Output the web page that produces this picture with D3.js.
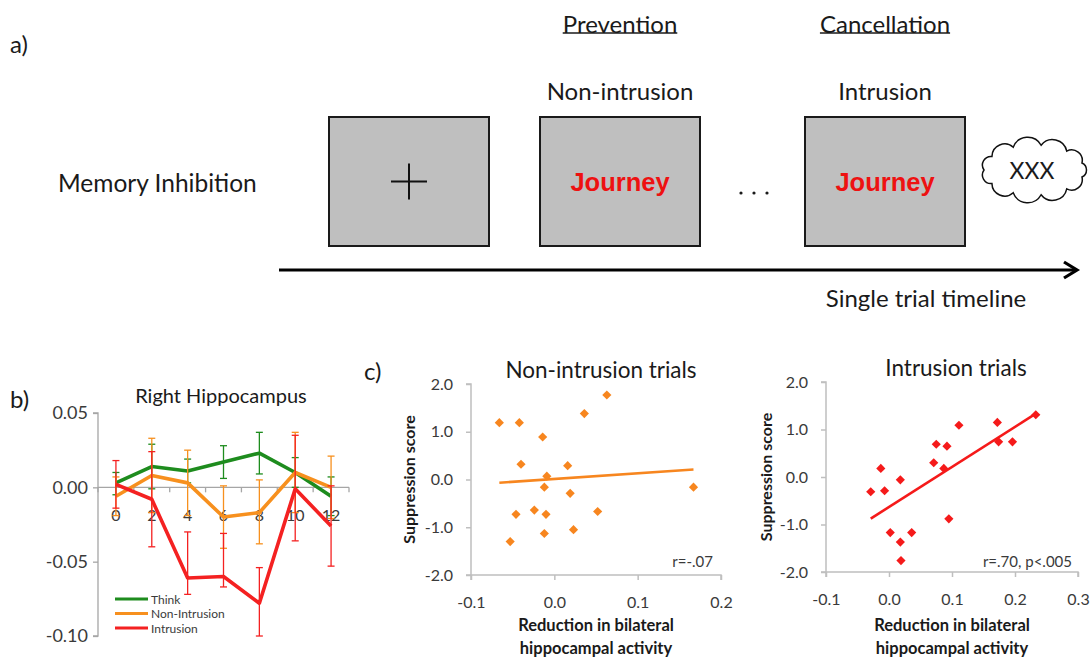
<!DOCTYPE html>
<html>
<head>
<meta charset="utf-8">
<script src="https://cdn.jsdelivr.net/npm/d3@7"></script>
<style>
  html, body { margin: 0; padding: 0; background: #fff; }
  svg { display: block; font-family: Lato, "Open Sans", sans-serif; }
</style>
</head>
<body>
<script>
// ---------- data ----------
// (b) right hippocampus time course, seconds after cue onset
const timeBins = ["0", "2", "4", "6", "8", "10", "12"];
const seriesNames = ["Think", "Non-Intrusion", "Intrusion"];
const thinkMean = [0.003, 0.014, 0.011, 0.017, 0.023, 0.010, -0.006];
const thinkUpper = [0.010, 0.029, 0.019, 0.028, 0.037, 0.020, 0.007];
const thinkLower = [-0.005, -0.001, 0.003, 0.006, 0.009, 0.000, -0.019];
const nonIntrusionMean = [-0.006, 0.008, 0.003, -0.020, -0.017, 0.010, 0.000];
const nonIntrusionUpper = [0.007, 0.033, 0.025, 0.001, 0.005, 0.037, 0.021];
const nonIntrusionLower = [-0.019, -0.017, -0.019, -0.041, -0.038, -0.017, -0.021];
const intrusionMean = [0.002, -0.008, -0.061, -0.060, -0.078, -0.001, -0.026];
const intrusionUpper = [0.018, 0.024, -0.030, -0.031, -0.054, 0.035, 0.001];
const intrusionLower = [-0.014, -0.040, -0.072, -0.067, -0.100, -0.036, -0.053];
const hippTicks = [-0.10, -0.05, 0.00, 0.05];

// (c) suppression score vs reduction in bilateral hippocampal activity
const nonIntrusionReduction = [-0.066, -0.042, -0.014, -0.040, 0.016, -0.009, -0.012, 0.019, -0.046,
  -0.024, -0.010, 0.052, -0.012, 0.023, -0.053, 0.036, 0.063, 0.167];
const nonIntrusionScore = [1.19, 1.19, 0.89, 0.32, 0.29, 0.07, -0.16, -0.29, -0.73,
  -0.64, -0.73, -0.67, -1.13, -1.05, -1.30, 1.38, 1.77, -0.16];
const intrusionReduction = [-0.029, -0.013, -0.007, 0.018, 0.002, 0.018, 0.019, 0.036, 0.071,
  0.075, 0.087, 0.092, 0.095, 0.111, 0.172, 0.174, 0.196, 0.233];
const intrusionScore = [-0.31, 0.18, -0.29, -0.06, -1.17, -1.37, -1.76, -1.17, 0.30,
  0.69, 0.18, 0.65, -0.88, 1.09, 1.15, 0.74, 0.74, 1.31];
const scoreTicks = [-2, -1, 0, 1, 2];
const leftReductionTicks = [-0.1, 0.0, 0.1, 0.2];
const rightReductionTicks = [-0.1, 0.0, 0.1, 0.2, 0.3];

// (a) trial schematic labels
const phaseHeaders = ["", "Prevention", "Cancellation"];
const screenCaptions = ["", "Non-intrusion", "Intrusion"];
const screenWords = ["+", "Journey", "Journey"];

// ---------- drawing ----------
const W = 1092, H = 660;
const svg = d3.select("body").append("svg").attr("width", W).attr("height", H);
const ink = "#1a1a1a";
const axisGray = "#a6a6a6";
const labelInk = "#3a3a3a";
const green = "#1e8c1e", orange = "#f7901e", red = "#f42121";
const scatterOrange = "#f7861f", scatterRed = "#f51a1a";

function panelLetter(txt, x, y) {
  svg.append("text").attr("x", x).attr("y", y).attr("font-size", 24)
    .attr("fill", ink).text(txt);
}

// ===== (a) =====
panelLetter("a)", 10, 53);
svg.append("text").attr("x", 58).attr("y", 182).attr("dominant-baseline", "central")
  .attr("font-size", 24.5).attr("fill", ink).text("Memory Inhibition");

const screenX = d3.scaleOrdinal().domain([0, 1, 2]).range([409, 620, 885]);
const screenW = 160, screenTop = 117, screenBottom = 246;
const screenMid = (screenTop + screenBottom) / 2;

[0, 1, 2].forEach(i => {
  const cx = screenX(i);
  svg.append("rect").attr("x", cx - screenW / 2).attr("y", screenTop)
    .attr("width", screenW).attr("height", screenBottom - screenTop)
    .attr("fill", "#bfbfbf").attr("stroke", "#1a1a1a").attr("stroke-width", 2);
  if (phaseHeaders[i]) {
    const t = svg.append("text").attr("x", cx).attr("y", 23).attr("text-anchor", "middle")
      .attr("dominant-baseline", "central").attr("font-size", 24).attr("fill", ink)
      .text(phaseHeaders[i]);
    const w = t.node().getComputedTextLength();
    svg.append("line").attr("x1", cx - w / 2).attr("x2", cx + w / 2)
      .attr("y1", 33).attr("y2", 33).attr("stroke", ink).attr("stroke-width", 1.3);
  }
  if (screenCaptions[i]) {
    svg.append("text").attr("x", cx).attr("y", 90).attr("text-anchor", "middle")
      .attr("dominant-baseline", "central").attr("font-size", 24).attr("fill", ink)
      .text(screenCaptions[i]);
  }
  if (screenWords[i] === "+") {
    svg.append("path")
      .attr("d", `M${cx - 18},${screenMid} H${cx + 18} M${cx},${screenMid - 18} V${screenMid + 18}`)
      .attr("stroke", "#111").attr("stroke-width", 2);
  } else {
    svg.append("text").attr("x", cx).attr("y", screenMid).attr("text-anchor", "middle")
      .attr("dominant-baseline", "central")
      .attr("font-family", "'Liberation Sans', Arial, sans-serif").attr("font-weight", "bold")
      .attr("font-size", 25.5).attr("fill", "#ee1111").text(screenWords[i]);
  }
});

// ellipsis between the two word screens
[741, 754, 767].forEach(x => {
  svg.append("circle").attr("cx", x).attr("cy", 193).attr("r", 1.6).attr("fill", ink);
});

// thought cloud
(function cloud(cx, cy, rx, ry, n) {
  const pts = d3.range(n + 1).map(k => {
    const a = -Math.PI + (k / n) * 2 * Math.PI;
    return [cx + rx * Math.cos(a), cy + ry * Math.sin(a)];
  });
  let d = `M${pts[0][0]},${pts[0][1]}`;
  for (let k = 1; k <= n; k++) {
    const [x0, y0] = pts[k - 1], [x1, y1] = pts[k];
    const r = Math.hypot(x1 - x0, y1 - y0) * 0.55;
    d += ` A${r},${r} 0 0 1 ${x1},${y1}`;
  }
  svg.append("path").attr("d", d + "Z").attr("fill", "#fff")
    .attr("stroke", "#111").attr("stroke-width", 1.5);
  svg.append("text").attr("x", cx - 2).attr("y", cy).attr("text-anchor", "middle")
    .attr("dominant-baseline", "central").attr("font-size", 23).attr("fill", ink).text("XXX");
})(1034, 170, 50, 25, 11);

// timeline arrow
svg.append("line").attr("x1", 279).attr("x2", 1076).attr("y1", 270).attr("y2", 270)
  .attr("stroke", "#000").attr("stroke-width", 3.2);
svg.append("path").attr("d", "M1064,262 L1077,270 L1064,278").attr("fill", "none")
  .attr("stroke", "#000").attr("stroke-width", 3.2).attr("stroke-linejoin", "miter");
svg.append("text").attr("x", 926).attr("y", 297).attr("text-anchor", "middle")
  .attr("dominant-baseline", "central").attr("font-size", 24).attr("fill", ink)
  .text("Single trial timeline");

// ===== (b) =====
panelLetter("b)", 10, 408);
const xB = d3.scalePoint().domain(timeBins).range([98, 349]).padding(0.5);
const yB = d3.scaleLinear().domain([-0.10, 0.05]).range([636, 413]);
const gB = svg.append("g");

gB.append("text").attr("x", 221).attr("y", 395).attr("text-anchor", "middle")
  .attr("dominant-baseline", "central").attr("font-size", 20).attr("fill", ink)
  .text("Right Hippocampus");

const yAxisB = gB.append("g").attr("transform", "translate(98,0)")
  .call(d3.axisLeft(yB).tickValues(hippTicks).tickSize(5).tickPadding(5)
    .tickFormat(d => d.toFixed(2)));
yAxisB.selectAll("path,line").attr("stroke", axisGray).attr("stroke-width", 1.3);
yAxisB.selectAll("text").attr("font-size", 18).attr("fill", labelInk).attr("font-family", "Lato");
yAxisB.select(".domain").attr("d", `M-5,${yB(0.05)}H0V${yB(-0.10)}H-5`);

// category axis along zero
const step = xB.step();
const xAxisB = gB.append("g").attr("transform", `translate(0,${yB(0)})`);
xAxisB.append("line").attr("x1", 98).attr("x2", 349).attr("stroke", axisGray).attr("stroke-width", 1.3);
d3.range(timeBins.length + 1).forEach(k => {
  const x = 98 + k * step;
  xAxisB.append("line").attr("x1", x).attr("x2", x).attr("y1", 0).attr("y2", 5)
    .attr("stroke", axisGray).attr("stroke-width", 1.3);
});
xAxisB.selectAll("text.tl").data(timeBins).join("text").attr("class", "tl")
  .attr("x", d => xB(d)).attr("y", 27).attr("text-anchor", "middle")
  .attr("dominant-baseline", "central").attr("font-size", 16).attr("fill", labelInk).text(d => d);

const hippSeries = [
  { name: seriesNames[0], color: green, mean: thinkMean, lo: thinkLower, hi: thinkUpper },
  { name: seriesNames[1], color: orange, mean: nonIntrusionMean, lo: nonIntrusionLower, hi: nonIntrusionUpper },
  { name: seriesNames[2], color: red, mean: intrusionMean, lo: intrusionLower, hi: intrusionUpper }
];
const lineB = d3.line().x((d, i) => xB(timeBins[i])).y(d => yB(d));

hippSeries.forEach(s => {
  const g = gB.append("g");
  timeBins.forEach((t, i) => {
    const x = xB(t);
    g.append("line").attr("x1", x).attr("x2", x).attr("y1", yB(s.lo[i])).attr("y2", yB(s.hi[i]))
      .attr("stroke", s.color).attr("stroke-width", 1.3);
    [s.lo[i], s.hi[i]].forEach(v => {
      g.append("line").attr("x1", x - 3.5).attr("x2", x + 3.5).attr("y1", yB(v)).attr("y2", yB(v))
        .attr("stroke", s.color).attr("stroke-width", 1.3);
    });
  });
  g.append("path").attr("d", lineB(s.mean)).attr("fill", "none").attr("stroke", s.color)
    .attr("stroke-width", 3.6).attr("stroke-linejoin", "round");
});

// legend
hippSeries.forEach((s, i) => {
  const y = 599 + i * 14.5;
  gB.append("line").attr("x1", 115).attr("x2", 148).attr("y1", y).attr("y2", y)
    .attr("stroke", s.color).attr("stroke-width", 3);
  gB.append("text").attr("x", 151).attr("y", y).attr("dominant-baseline", "central")
    .attr("font-size", 12).attr("fill", labelInk).text(s.name);
});

// ===== (c) =====
panelLetter("c)", 364, 380);

function regression(xs, ys) {
  const mx = d3.mean(xs), my = d3.mean(ys);
  const sxy = d3.sum(xs, (x, i) => (x - mx) * (ys[i] - my));
  const sxx = d3.sum(xs, x => (x - mx) * (x - mx));
  const b = sxy / sxx;
  return x => my + b * (x - mx);
}

function scatterPanel(opt) {
  const x = d3.scaleLinear().domain(opt.xDomain).range(opt.xRange);
  const y = d3.scaleLinear().domain([-2, 2]).range(opt.yRange);
  const g = svg.append("g");

  g.append("text").attr("x", opt.titleX).attr("y", opt.titleY).attr("text-anchor", "middle")
    .attr("dominant-baseline", "central").attr("font-size", 22.5).attr("fill", ink).text(opt.title);

  const ya = g.append("g").attr("transform", `translate(${opt.xRange[0]},0)`)
    .call(d3.axisLeft(y).tickValues(scoreTicks).tickSize(5).tickPadding(13)
      .tickFormat(d => d.toFixed(1)));
  const xa = g.append("g").attr("transform", `translate(0,${opt.yRange[0]})`)
    .call(d3.axisBottom(x).tickValues(opt.xTicks).tickSize(5).tickPadding(17)
      .tickFormat(d => d.toFixed(1)));
  [ya, xa].forEach(a => {
    a.selectAll("path,line").attr("stroke", "#bfbfbf").attr("stroke-width", 1.5);
    a.selectAll("text").attr("font-size", 16).attr("fill", labelInk).attr("font-family", "Lato");
  });
  ya.select(".domain").attr("d", `M-5,${opt.yRange[1]}H0V${opt.yRange[0]}H-5`);
  xa.select(".domain").attr("d", `M${opt.xRange[0]},5V0H${opt.xRange[1]}V5`);

  const xs = opt.xs, ys = opt.ys;
  const fit = regression(xs, ys);
  const [x0, x1] = d3.extent(xs);
  g.append("line").attr("x1", x(x0)).attr("y1", y(fit(x0))).attr("x2", x(x1)).attr("y2", y(fit(x1)))
    .attr("stroke", opt.color).attr("stroke-width", 2.6);

  const diamond = d3.symbol(d3.symbolSquare, 42);
  g.selectAll("path.pt").data(xs).join("path").attr("class", "pt")
    .attr("d", diamond)
    .attr("transform", (d, i) => `translate(${x(d)},${y(ys[i])}) rotate(45)`)
    .attr("fill", opt.color);

  g.append("text").attr("x", opt.statX).attr("y", opt.statY).attr("text-anchor", "end")
    .attr("dominant-baseline", "central").attr("font-size", 15).attr("fill", labelInk).text(opt.stat);

  const cy = (opt.yRange[0] + opt.yRange[1]) / 2;
  g.append("text").attr("transform", `translate(${opt.yTitleX},${cy}) rotate(-90)`)
    .attr("text-anchor", "middle").attr("dominant-baseline", "central")
    .attr("font-size", 16).attr("font-weight", "bold").attr("fill", ink).text("Suppression score");
  const cx = (opt.xRange[0] + opt.xRange[1]) / 2;
  ["Reduction in bilateral", "hippocampal activity"].forEach((t, i) => {
    g.append("text").attr("x", cx).attr("y", 625 + i * 23).attr("text-anchor", "middle")
      .attr("dominant-baseline", "central").attr("font-size", 16.5).attr("font-weight", "bold")
      .attr("fill", ink).text(t);
  });
}

scatterPanel({
  title: "Non-intrusion trials", titleX: 601, titleY: 369,
  xDomain: [-0.1, 0.2], xRange: [471, 721], yRange: [575, 384], xTicks: leftReductionTicks,
  xs: nonIntrusionReduction, ys: nonIntrusionScore, color: scatterOrange,
  stat: "r=-.07", statX: 713, statY: 561, yTitleX: 408
});
scatterPanel({
  title: "Intrusion trials", titleX: 956, titleY: 367,
  xDomain: [-0.1, 0.3], xRange: [826, 1078], yRange: [572, 382], xTicks: rightReductionTicks,
  xs: intrusionReduction, ys: intrusionScore, color: scatterRed,
  stat: "r=.70, p<.005", statX: 1072, statY: 561, yTitleX: 765
});
</script>
</body>
</html>
